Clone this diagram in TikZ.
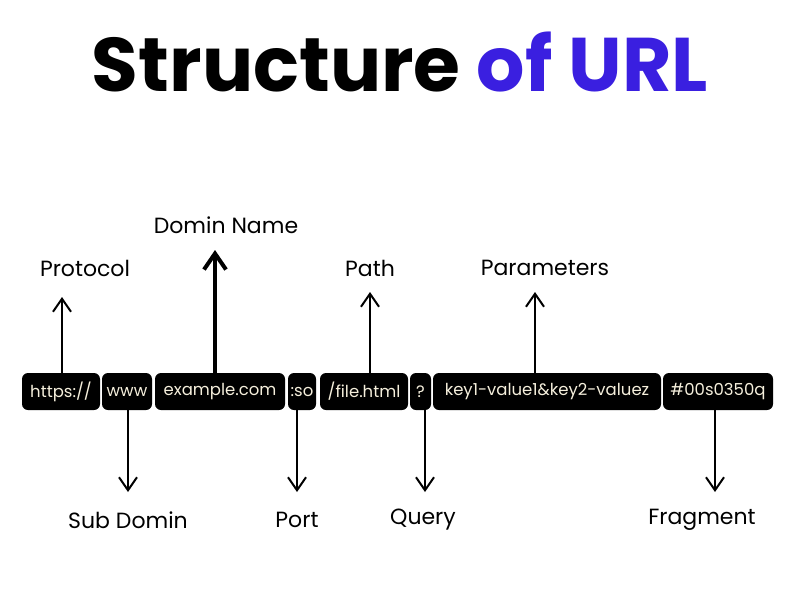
\documentclass[tikz,border=0pt]{standalone}
\usepackage{fontspec}
\setmainfont{Poppins}
\usetikzlibrary{arrows.meta}
\definecolor{cream}{HTML}{F5EFDC}
\definecolor{tblue}{HTML}{3A1FE0}
\begin{document}
\begin{tikzpicture}[x=1pt,y=-1pt,
 seg/.style={fill=black,rounded corners=6pt,draw=none},
 st/.style={text=cream,font=\fontsize{16.5}{16.5}\selectfont,anchor=center},
 lab/.style={font=\fontsize{22}{22}\selectfont,anchor=center},
 arr/.style={line width=2pt,-{Straight Barb[length=13pt,width=18pt,line width=2pt]}}]
\useasboundingbox (0,0) rectangle (800,600);
\fill[white] (0,0) rectangle (800,600);
\node[font=\fontsize{76}{76}\selectfont\bfseries,anchor=center] (title) at (400,62) {Structure \textcolor{tblue}{of URL}};
% segments
\fill[seg] (22,373) rectangle (100,410);   \node[st] (p) at (61,391.5) {https://};
\fill[seg] (102,373) rectangle (152,410);  \node[st] (w) at (127,391.5) {www};
\fill[seg] (155,373) rectangle (285,410);  \node[st] (d) at (220,391.5) {example.com};
\fill[seg] (288,373) rectangle (316,410);  \node[st] (o) at (302,391.5) {:so};
\fill[seg] (320,373) rectangle (408,410);  \node[st] (f) at (364,391.5) {/file.html};
\fill[seg] (410,373) rectangle (431,410);  \node[st] (q) at (420.5,391.5) {?};
\fill[seg] (433,373) rectangle (661,410);  \node[st] (k) at (547,391.5) {key1-value1\&key2-valuez};
\fill[seg] (663,373) rectangle (773,410);  \node[st] (h) at (718,391.5) {\#00s0350q};
\node[lab] (lp) at (85,268) {Protocol};
\node[lab] (ld) at (226,225) {Domin Name};
\node[lab] (lf) at (370,268) {Path};
\node[lab] (lk) at (545,268) {Parameters};
\node[lab] (lw) at (128,520) {Sub Domin};
\node[lab] (lo) at (297,520) {Port};
\node[lab] (lq) at (423,520) {Query};
\node[lab] (lh) at (702,520) {Fragment};
\coordinate (cp) at (62,297); \coordinate (cd) at (215,250);
\coordinate (cf) at (370,292); \coordinate (ck) at (535,292);
\coordinate (cw) at (128,492); \coordinate (co) at (297,492);
\coordinate (cq) at (425,492); \coordinate (ch) at (715,492);
\draw[arr] (62,373) -- (cp);
\draw[line width=4pt,-{Straight Barb[length=16pt,width=22pt,line width=4pt]}] (215,373) -- (cd);
\draw[arr] (370,373) -- (cf);
\draw[arr] (535,373) -- (ck);
\draw[arr] (128,410) -- (cw);
\draw[arr] (297,410) -- (co);
\draw[arr] (425,410) -- (cq);
\draw[arr] (715,410) -- (ch);
\end{tikzpicture}
\end{document}
